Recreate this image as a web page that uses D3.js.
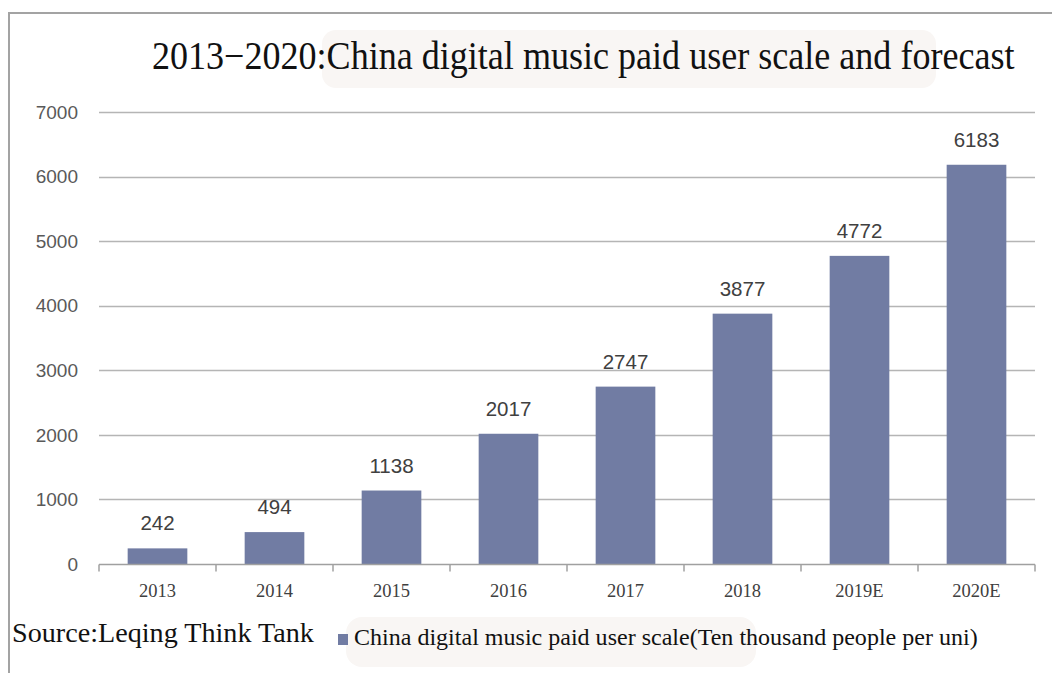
<!DOCTYPE html>
<html>
<head>
<meta charset="utf-8">
<script src="https://cdn.jsdelivr.net/npm/d3@7"></script>
<style>
  html, body { margin: 0; padding: 0; background: #fff; }
  svg { display: block; }
</style>
</head>
<body>
<div id="chart"></div>
<script>
const categories = ["2013", "2014", "2015", "2016", "2017", "2018", "2019E", "2020E"];
const values = [242, 494, 1138, 2017, 2747, 3877, 4772, 6183];
const yTicks = [0, 1000, 2000, 3000, 4000, 5000, 6000, 7000];
const titleText = "2013\u22122020:China digital music paid user scale and forecast";
const sourceText = "Source:Leqing Think Tank";
const legendText = "China digital music paid user scale(Ten thousand people per uni)";

const W = 1052, H = 673;
const margin = { left: 99, right: 16, top: 112, bottom: 109 };
const BAR = "#717ca3";

const svg = d3.select("#chart").append("svg")
    .attr("width", W)
    .attr("height", H);

// serif text squeezed horizontally to a target width (the source uses a condensed face)
function condensedText(str, x0, y0, size, width) {
    const t = svg.append("text")
        .style("font-family", "'Liberation Serif', serif")
        .style("font-size", size + "px")
        .attr("fill", "#111")
        .text(str);
    const k = width / t.node().getComputedTextLength();
    t.attr("transform", `translate(${x0},${y0}) scale(${k},1)`);
    return t;
}

// outer frame (top + left edges visible)
svg.append("path")
    .attr("d", `M9,${H} L9,13 L${W},13`)
    .attr("fill", "none")
    .attr("stroke", "#a3a3a3")
    .attr("stroke-width", 2);

// soft highlights behind the title and legend text
svg.append("rect")
    .attr("x", 322).attr("y", 30).attr("width", 614).attr("height", 58)
    .attr("rx", 14).attr("fill", "#f9f6f4");
svg.append("rect")
    .attr("x", 346).attr("y", 617).attr("width", 410).attr("height", 50)
    .attr("rx", 16).attr("fill", "#f9f6f4");

condensedText(titleText, 152, 69, 39, 863);

const x = d3.scaleBand()
    .domain(categories)
    .range([margin.left, W - margin.right - 1])
    .paddingInner(0.49)
    .paddingOuter(0.245);

const y = d3.scaleLinear()
    .domain([0, 7000])
    .range([H - margin.bottom, margin.top]);

// grid lines
svg.append("g")
    .selectAll("line")
    .data(yTicks.filter(d => d > 0))
    .join("line")
    .attr("x1", margin.left)
    .attr("x2", W - margin.right - 1)
    .attr("y1", d => Math.round(y(d)) + 0.5)
    .attr("y2", d => Math.round(y(d)) + 0.5)
    .attr("stroke", "#b5b5b5")
    .attr("stroke-width", 1.3);

// y labels
svg.append("g")
    .selectAll("text")
    .data(yTicks)
    .join("text")
    .attr("x", 78)
    .attr("y", d => y(d))
    .attr("dy", "0.35em")
    .attr("text-anchor", "end")
    .style("font-family", "'Liberation Sans', Arial, sans-serif")
    .style("font-size", "19px")
    .attr("fill", "#595959")
    .text(d => d);

// bars
svg.append("g")
    .selectAll("rect")
    .data(values)
    .join("rect")
    .attr("x", (d, i) => x(categories[i]))
    .attr("width", x.bandwidth())
    .attr("y", d => y(d))
    .attr("height", d => y(0) - y(d))
    .attr("fill", BAR);

// value labels
svg.append("g")
    .selectAll("text")
    .data(values)
    .join("text")
    .attr("x", (d, i) => x(categories[i]) + x.bandwidth() / 2)
    .attr("y", d => y(d) - 18)
    .attr("text-anchor", "middle")
    .style("font-family", "'Liberation Sans', Arial, sans-serif")
    .style("font-size", "20.5px")
    .attr("fill", "#404040")
    .text(d => d);

// x axis with ticks on category boundaries
const xAxis = svg.append("g");
const y0 = Math.round(y(0)) + 0.5;
xAxis.append("line")
    .attr("x1", margin.left).attr("x2", W - margin.right - 1)
    .attr("y1", y0).attr("y2", y0)
    .attr("stroke", "#a0a0a0").attr("stroke-width", 1.5);
const step = x.step();
xAxis.selectAll(".tk")
    .data(d3.range(categories.length + 1))
    .join("line")
    .attr("class", "tk")
    .attr("x1", i => margin.left + i * step)
    .attr("x2", i => margin.left + i * step)
    .attr("y1", y0).attr("y2", y0 + 7)
    .attr("stroke", "#a0a0a0").attr("stroke-width", 1.5);
xAxis.selectAll("text")
    .data(categories)
    .join("text")
    .attr("x", d => x(d) + x.bandwidth() / 2)
    .attr("y", 597)
    .attr("text-anchor", "middle")
    .style("font-family", "'Liberation Serif', serif")
    .style("font-size", "18.5px")
    .attr("fill", "#404040")
    .text(d => d);

// source note
condensedText(sourceText, 12, 642, 27, 302);

// legend
svg.append("rect")
    .attr("x", 338).attr("y", 634).attr("width", 10).attr("height", 11)
    .attr("fill", BAR);
condensedText(legendText, 354, 645, 23, 624);
</script>
</body>
</html>
